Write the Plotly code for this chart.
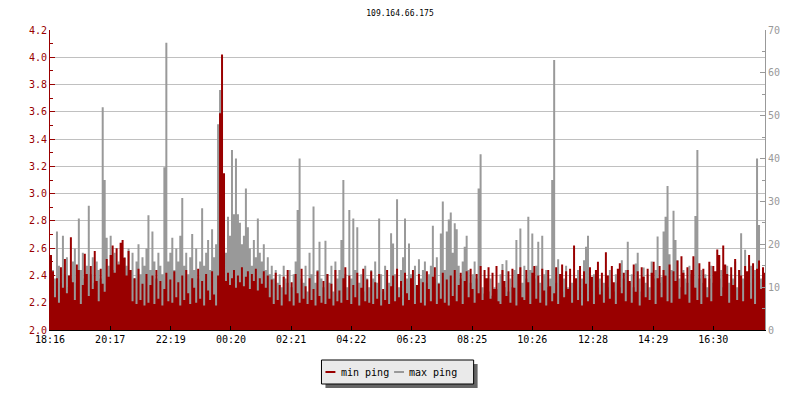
import plotly.graph_objects as go

title_text = "109.164.66.175"
step_minutes = 4

min_ping = [
    2.55, 2.43, 2.24, 2.38, 2.20, 2.46, 2.31, 2.52, 2.27, 2.40,
    2.68, 2.35, 2.22, 2.48, 2.44, 2.19, 2.33, 2.56, 2.41, 2.25,
    2.47, 2.30, 2.58, 2.36, 2.21, 2.45, 2.34, 2.28, 2.52, 2.39,
    2.55, 2.62, 2.42, 2.60, 2.48, 2.64, 2.66, 2.53, 2.40, 2.58,
    2.44, 2.21, 2.38, 2.19, 2.45, 2.22, 2.34, 2.18, 2.41, 2.20,
    2.33, 2.40, 2.19, 2.44, 2.23, 2.36, 2.18, 2.30, 2.42, 2.21,
    2.37, 2.20, 2.43, 2.24, 2.35, 2.18, 2.40, 2.22, 2.44, 2.27,
    2.19, 2.38, 2.31, 2.20, 2.45, 2.23, 2.36, 2.18, 2.41, 2.29,
    2.22, 2.43, 2.26, 2.18, 2.40, 3.59, 4.02, 3.15, 2.36, 2.42,
    2.33, 2.38, 2.44, 2.31, 2.40, 2.35, 2.46, 2.32, 2.39, 2.43,
    2.30, 2.41, 2.36, 2.45, 2.29, 2.38, 2.34, 2.43, 2.31, 2.40,
    2.24, 2.37, 2.19, 2.42, 2.22, 2.33, 2.18, 2.39, 2.26, 2.44,
    2.21, 2.35, 2.18, 2.41, 2.27, 2.20, 2.45, 2.23, 2.32, 2.19,
    2.38, 2.22, 2.30, 2.18, 2.43, 2.25, 2.20, 2.36, 2.19, 2.41,
    2.23, 2.34, 2.18, 2.44, 2.21, 2.29, 2.20, 2.38, 2.46, 2.22,
    2.40, 2.19, 2.33, 2.24, 2.42, 2.18, 2.31, 2.45, 2.21, 2.37,
    2.20, 2.43, 2.19, 2.35, 2.23, 2.41, 2.18, 2.30, 2.22, 2.44,
    2.19, 2.32, 2.40, 2.21, 2.45, 2.24, 2.36, 2.18, 2.42, 2.27,
    2.22, 2.38, 2.44, 2.19, 2.33, 2.41, 2.20, 2.35, 2.18, 2.43,
    2.30, 2.21, 2.39, 2.46, 2.19, 2.34, 2.23, 2.42, 2.20, 2.37,
    2.18, 2.40, 2.25, 2.44, 2.21, 2.33, 2.42, 2.19, 2.36, 2.43,
    2.24, 2.45, 2.30, 2.20, 2.41, 2.27, 2.47, 2.22, 2.44, 2.38,
    2.46, 2.23, 2.42, 2.30, 2.47, 2.21, 2.19, 2.44, 2.36, 2.25,
    2.43, 2.20, 2.45, 2.31, 2.18, 2.41, 2.46, 2.24, 2.22, 2.44,
    2.35, 2.19, 2.42, 2.47, 2.23, 2.40, 2.20, 2.45, 2.29, 2.18,
    2.44, 2.32, 2.21, 2.27, 2.46, 2.19, 2.41, 2.48, 2.24, 2.43,
    2.30, 2.45, 2.20, 2.62, 2.38, 2.22, 2.47, 2.18, 2.43, 2.34,
    2.21, 2.46, 2.39, 2.19, 2.44, 2.50, 2.26, 2.42, 2.20, 2.57,
    2.40, 2.23, 2.47, 2.35, 2.19, 2.45, 2.49, 2.27, 2.42, 2.21,
    2.44, 2.36, 2.20, 2.48, 2.28, 2.43, 2.18, 2.46, 2.39, 2.24,
    2.45, 2.22, 2.42, 2.50, 2.19, 2.38, 2.47, 2.24, 2.44, 2.40,
    2.21, 2.48, 2.20, 2.43, 2.36, 2.51, 2.23, 2.54, 2.42, 2.26,
    2.46, 2.20, 2.44, 2.54, 2.31, 2.22, 2.49, 2.19, 2.45, 2.38,
    2.24, 2.50, 2.21, 2.47, 2.43, 2.59, 2.55, 2.25, 2.62, 2.48,
    2.41, 2.20, 2.46, 2.33, 2.52, 2.22, 2.44, 2.40, 2.21, 2.47,
    2.43, 2.55, 2.23, 2.49, 2.19, 2.45, 2.51, 2.30, 2.46, 2.42,
]

max_ping = [
    9, 14, 12, 23, 15, 11, 22, 13, 17, 10,
    12, 16, 19, 11, 26, 14, 18, 12, 15, 29,
    13, 17, 11, 16, 14, 12, 52, 35, 21.5, 15,
    22, 14, 18, 12, 16, 13, 11, 17, 15, 19,
    14, 18, 12, 16, 20, 13, 17, 15, 19, 26.8,
    14, 23, 16, 12, 18, 15, 13, 38, 67, 16,
    18, 21.5, 14, 19, 16, 22, 30.8, 15, 18, 13,
    17, 22.4, 14, 19, 12, 16, 28.4, 15, 18, 21,
    14, 23.5, 17, 20, 48, 56, 30, 20, 18, 26.4,
    22, 42, 27, 40, 27, 25, 20, 22, 33, 24,
    19, 15, 21, 17, 26, 18, 16, 20, 14, 17,
    13, 15, 12, 14, 11, 13, 10, 15, 12, 11,
    14, 10, 13, 16, 28, 40, 12, 11, 15, 9,
    18, 13, 28.8, 11, 14, 20.6, 12, 10, 20.8, 13,
    11, 15, 9, 16, 12, 14, 21, 35, 13, 10,
    28, 12, 26, 14, 24, 11, 13, 9, 15, 12,
    10, 14, 12, 16, 11, 26, 13, 9, 15, 12,
    11, 22.6, 20.2, 13, 30.5, 10, 14, 17, 26, 12,
    20.2, 13, 11, 15, 10, 16.5, 12, 14, 16, 11,
    13, 15, 24.3, 12, 17, 11, 22.5, 30, 14, 23,
    25.8, 27.4, 18, 24.9, 23.5, 15, 12, 16, 19.4, 22,
    14, 11, 13, 16, 12, 33, 41, 10, 8.5, 11,
    9, 12, 8, 10, 9.5, 11, 13, 15.4, 10, 16.3,
    9, 12, 10, 14, 21, 13, 23.7, 11, 15, 12,
    26.4, 14, 22.5, 12, 15, 20.6, 11, 22, 13, 14,
    10, 12, 35, 63, 11, 16.5, 13, 9, 12, 15,
    10, 13, 11, 12, 9, 14, 10, 12, 16.3, 19.4,
    22, 11, 9, 13, 14, 10, 12, 9, 11, 13,
    10, 14, 12, 9, 13, 11, 10, 16.3, 12, 14,
    20.6, 11, 13, 10, 15.5, 18, 12, 9, 14.6, 11,
    13, 10, 16, 12, 14, 21.8, 11, 12.4, 23, 26.4,
    33.6, 17.7, 14, 27.8, 21, 16.3, 12, 10, 14, 12,
    11, 15, 13, 10, 26.6, 42, 12, 14, 11, 13,
    10, 12, 15, 11, 13, 9, 12, 14, 10, 13,
    15, 11, 13, 12, 16, 10, 14, 22.6, 12, 18.7,
    13, 11, 15, 12, 14, 40, 24.5, 12, 10, 13,
]

tick_minutes = [0, 121, 243, 364, 485, 606, 727, 849, 970, 1092, 1213, 1334]
tick_labels = ["18:16", "20:17", "22:19", "00:20", "02:21", "04:22",
               "06:23", "08:25", "10:26", "12:28", "14:29", "16:30"]
left_ticks = [2.0, 2.2, 2.4, 2.6, 2.8, 3.0, 3.2, 3.4, 3.6, 3.8, 4.0, 4.2]
right_ticks = [0, 10, 20, 30, 40, 50, 60, 70]
legend_names = ["min ping", "max ping"]

RED = "#990000"
GRAY = "#999999"
FONT = "DejaVu Sans Mono"

# the page body has an 8px margin; the figure is sized so the plot area
# lands at x 50..769, y 30..330 of the 800x400 window
OFF = 8
W, H = 784, 384
ML, MR, MT, MB = 42, 23, 22, 62
PW, PH = W - ML - MR, H - MT - MB


def px(xp):
    return (xp - OFF - ML) / PW


def py(yp):
    return (OFF + H - MB - yp) / PH


x = [i * step_minutes for i in range(len(min_ping))]
xs = x + [x[-1] + step_minutes]

fig = go.Figure()
fig.add_trace(go.Scatter(
    x=xs, y=max_ping + [max_ping[-1]], yaxis="y", mode="lines",
    line=dict(shape="hv", width=0, color=GRAY),
    fill="tozeroy", fillcolor=GRAY, hoverinfo="skip", showlegend=False))
fig.add_trace(go.Scatter(
    x=xs, y=min_ping + [min_ping[-1]], yaxis="y2", mode="lines",
    line=dict(shape="hv", width=0, color=RED),
    fill="tozeroy", fillcolor=RED, hoverinfo="skip", showlegend=False))

fig.update_layout(
    width=W, height=H,
    margin=dict(l=ML, r=MR, t=MT, b=MB, pad=0),
    paper_bgcolor="white", plot_bgcolor="white",
    font=dict(family=FONT, size=10, color="black"),
    title=dict(text=title_text, x=0.5, xref="container", xanchor="center",
               y=1 - (13 - OFF) / H, yref="container", yanchor="middle",
               font=dict(family=FONT, size=8, color="black")),
    xaxis=dict(range=[0, 1438], tickmode="array", tickvals=tick_minutes,
               ticktext=tick_labels, ticks="inside", ticklen=4, tickcolor="black",
               showline=True, linecolor="black", linewidth=1, showgrid=False,
               zeroline=False, tickfont=dict(family=FONT, size=10, color="black")),
    yaxis=dict(range=[0, 70], side="right", tickmode="array", tickvals=right_ticks,
               ticks="inside", ticklen=5, tickcolor=GRAY, showline=True,
               linecolor=GRAY, linewidth=1, showgrid=False, zeroline=False,
               minor=dict(dtick=5, ticks="inside", ticklen=3, tickcolor=GRAY, showgrid=False),
               tickfont=dict(family=FONT, size=10, color=GRAY)),
    yaxis2=dict(range=[2.0, 4.2], side="left", overlaying="y", tickmode="array",
                tickvals=left_ticks, tickformat=".1f", ticks="inside", ticklen=5,
                tickcolor=RED, showline=True, linecolor=RED, linewidth=1,
                showgrid=True, gridcolor="#c0c0c0", gridwidth=1, zeroline=False,
                minor=dict(dtick=0.1, ticks="inside", ticklen=3, tickcolor=RED, showgrid=False),
                tickfont=dict(family=FONT, size=10, color=RED)),
)

# legend box with drop shadow (page pixel positions converted to paper units)
shapes = [
    dict(type="rect", xref="paper", yref="paper", x0=px(327), x1=px(480), y0=py(364), y1=py(388),
         fillcolor="#666666", line=dict(width=0), layer="above"),
    dict(type="rect", xref="paper", yref="paper", x0=px(323), x1=px(476), y0=py(360), y1=py(384),
         fillcolor="#eaeaea", line=dict(color="black", width=1), layer="above"),
    dict(type="line", xref="paper", yref="paper", x0=px(327), x1=px(337), y0=py(372), y1=py(372),
         line=dict(color=RED, width=2), layer="above"),
    dict(type="line", xref="paper", yref="paper", x0=px(396), x1=px(406), y0=py(372), y1=py(372),
         line=dict(color=GRAY, width=2), layer="above"),
]
annotations = [
    dict(text=legend_names[0], xref="paper", yref="paper", x=px(341), y=py(372),
         xanchor="left", yanchor="middle", showarrow=False,
         font=dict(family=FONT, size=10, color="black")),
    dict(text=legend_names[1], xref="paper", yref="paper", x=px(409), y=py(372),
         xanchor="left", yanchor="middle", showarrow=False,
         font=dict(family=FONT, size=10, color="black")),
]
fig.update_layout(shapes=shapes, annotations=annotations)

fig.write_html("out.html")
